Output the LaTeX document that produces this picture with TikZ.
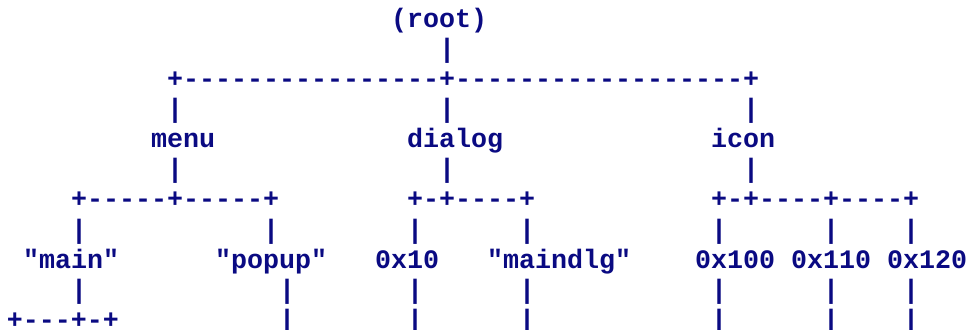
\documentclass[tikz,border=0pt]{standalone}
\usepackage{fontspec}
\setmonofont{Liberation Mono}
\definecolor{asciiblue}{RGB}{10,10,130}
\tikzset{
  asc/.style={anchor=base west, inner sep=0pt, outer sep=0pt, text=asciiblue,
    font=\fontsize{20pt}{22pt}\ttfamily\bfseries},
}
% \Asc{name}{column}{row}{text}
\newcommand{\Asc}[4]{\node[asc] (#1) at ({7+16*#2},{27+30.15*#3}) {#4};}
\begin{document}
\begin{tikzpicture}[x=0.75pt,y=-0.75pt]
\clip (0,0) rectangle (968,329);
% row 0-1
\Asc{root}{24}{0}{(root)}
\Asc{vroot}{27}{1}{|}
% row 2
\Asc{hroot}{10}{2}{+----------------+------------------+}
% row 3
\Asc{vmenuA}{10}{3}{|}
\Asc{vdialogA}{27}{3}{|}
\Asc{viconA}{46}{3}{|}
% row 4
\Asc{menu}{9}{4}{menu}
\Asc{dialog}{25}{4}{dialog}
\Asc{icon}{44}{4}{icon}
% row 5
\Asc{vmenuB}{10}{5}{|}
\Asc{vdialogB}{27}{5}{|}
\Asc{viconB}{46}{5}{|}
% row 6
\Asc{hmenu}{4}{6}{+-----+-----+}
\Asc{hdialog}{25}{6}{+-+----+}
\Asc{hicon}{44}{6}{+-+----+----+}
% row 7
\Asc{vmainA}{4}{7}{|}
\Asc{vpopupA}{16}{7}{|}
\Asc{vtenA}{25}{7}{|}
\Asc{vdlgA}{32}{7}{|}
\Asc{vhundredA}{44}{7}{|}
\Asc{vhtenA}{51}{7}{|}
\Asc{vhtwentyA}{56}{7}{|}
% row 8
\Asc{main}{1}{8}{"main"}
\Asc{popup}{13}{8}{"popup"}
\Asc{ten}{23}{8}{0x10}
\Asc{maindlg}{30}{8}{"maindlg"}
\Asc{hundred}{43}{8}{0x100}
\Asc{hten}{49}{8}{0x110}
\Asc{htwenty}{55}{8}{0x120}
% row 9
\Asc{vmainB}{4}{9}{|}
\Asc{vpopupB}{17}{9}{|}
\Asc{vtenB}{25}{9}{|}
\Asc{vdlgB}{32}{9}{|}
\Asc{vhundredB}{44}{9}{|}
\Asc{vhtenB}{51}{9}{|}
\Asc{vhtwentyB}{56}{9}{|}
% row 10
\Asc{hmain}{0}{10}{+---+-+}
\Asc{vpopupC}{17}{10}{|}
\Asc{vtenC}{25}{10}{|}
\Asc{vdlgC}{32}{10}{|}
\Asc{vhundredC}{44}{10}{|}
\Asc{vhtenC}{51}{10}{|}
\Asc{vhtwentyC}{56}{10}{|}
\end{tikzpicture}
\end{document}
